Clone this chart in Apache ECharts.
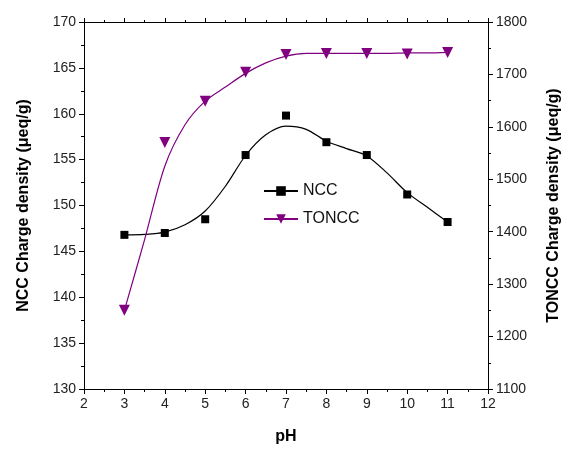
<!DOCTYPE html>
<html><head><meta charset="utf-8">
<script src="https://cdn.jsdelivr.net/npm/echarts@6/dist/echarts.min.js"></script>
<style>html,body{margin:0;padding:0;background:#fff}#c{width:570px;height:455px}</style>
</head><body><div id="c"></div>
<script>
const pH = [3, 4, 5, 6, 7, 8, 9, 10, 11];
const nccPoints = [146.8, 147.0, 148.5, 155.5, 159.8, 156.9, 155.5, 151.2, 148.2];
const tonccPoints = [1250, 1570, 1649, 1704, 1738, 1740, 1740, 1739, 1742];
// fitted curves, values every 0.5 pH
const curvePH = [3, 3.5, 4, 4.5, 5, 5.5, 6, 6.5, 7, 7.5, 8, 8.5, 9, 9.5, 10, 10.5, 11];
const nccCurve = [146.8, 146.85, 147.1, 147.9, 149.4, 152.1, 155.45, 157.7, 158.65, 158.3, 157.0, 156.2, 155.4, 153.55, 151.4, 149.8, 148.2];
const tonccCurve = [1250, 1385, 1525, 1604, 1649, 1676, 1702, 1722, 1735, 1740, 1740, 1740, 1740, 1740, 1741, 1741, 1742];

const pair = (xs, ys) => xs.map((x, i) => [x, ys[i]]);
const font = 'Liberation Sans, Arial, sans-serif';
const black = '#000';
const purple = '#800080';

const chart = echarts.init(document.getElementById('c'), null, {renderer: 'canvas'});
chart.setOption({
  animation: false,
  backgroundColor: '#fff',
  grid: {left: 84, right: 80, top: 22, bottom: 66},
  legend: {
    data: ['NCC', 'TONCC'], orient: 'vertical', left: 258, top: 178,
    itemWidth: 34, itemHeight: 12, itemGap: 12,
    textStyle: {fontFamily: font, fontSize: 16, color: '#111'}
  },
  xAxis: [{
    type: 'value', min: 2, max: 12, interval: 1, position: 'bottom',
    name: 'pH', nameLocation: 'middle', nameGap: 40,
    nameTextStyle: {fontFamily: font, fontSize: 16, fontWeight: 'bold', color: black},
    axisLine: {show: true, onZero: false, lineStyle: {color: black, width: 1}},
    axisTick: {show: true, inside: false, length: 5, lineStyle: {color: black}},
    minorTick: {show: true, splitNumber: 2, length: 3, lineStyle: {color: black}},
    axisLabel: {fontFamily: font, fontSize: 14, color: '#222', margin: 8},
    splitLine: {show: false}
  }, {
    type: 'value', min: 2, max: 12, interval: 1, position: 'top',
    axisLine: {show: true, onZero: false, lineStyle: {color: black, width: 1}},
    axisTick: {show: true, inside: false, length: 4, lineStyle: {color: black}},
    minorTick: {show: true, splitNumber: 2, length: 2, lineStyle: {color: black}},
    axisLabel: {show: false}, splitLine: {show: false}
  }],
  yAxis: [{
    type: 'value', min: 130, max: 170, interval: 5, position: 'left',
    name: 'NCC Charge density (\u03bceq/g)', nameLocation: 'middle', nameGap: 52, nameRotate: 90,
    nameTextStyle: {fontFamily: font, fontSize: 16, fontWeight: 'bold', color: black},
    axisLine: {show: true, onZero: false, lineStyle: {color: black, width: 1}},
    axisTick: {show: true, inside: false, length: 5, lineStyle: {color: black}},
    minorTick: {show: true, splitNumber: 2, length: 3, lineStyle: {color: black}},
    axisLabel: {fontFamily: font, fontSize: 14, color: '#222', margin: 8},
    splitLine: {show: false}
  }, {
    type: 'value', min: 1100, max: 1800, interval: 100, position: 'right',
    name: 'TONCC Charge density (\u03bceq/g)', nameLocation: 'middle', nameGap: 58, nameRotate: 90,
    nameTextStyle: {fontFamily: font, fontSize: 16, fontWeight: 'bold', color: black},
    axisLine: {show: true, onZero: false, lineStyle: {color: black, width: 1}},
    axisTick: {show: true, inside: false, length: 5, lineStyle: {color: black}},
    minorTick: {show: true, splitNumber: 2, length: 3, lineStyle: {color: black}},
    axisLabel: {fontFamily: font, fontSize: 14, color: '#222', margin: 8, formatter: v => String(v)},
    splitLine: {show: false}
  }],
  series: [{
    name: 'NCC', type: 'line', yAxisIndex: 0, data: pair(curvePH, nccCurve),
    smooth: 0.3, showSymbol: false, symbol: 'rect', symbolSize: 8,
    lineStyle: {color: black, width: 1.2}, itemStyle: {color: black}, z: 2
  }, {
    name: 'NCC points', type: 'scatter', yAxisIndex: 0, data: pair(pH, nccPoints),
    symbol: 'rect', symbolSize: 8, itemStyle: {color: black, opacity: 1}, z: 3
  }, {
    name: 'TONCC', type: 'line', yAxisIndex: 1, data: pair(curvePH, tonccCurve),
    smooth: 0.3, showSymbol: false, symbol: 'triangle', symbolRotate: 180, symbolSize: 10,
    lineStyle: {color: purple, width: 1.2}, itemStyle: {color: purple}, z: 2
  }, {
    name: 'TONCC points', type: 'scatter', yAxisIndex: 1, data: pair(pH, tonccPoints),
    symbol: 'triangle', symbolRotate: 180, symbolSize: 11, itemStyle: {color: purple, opacity: 1}, z: 3
  }]
});
</script></body></html>
